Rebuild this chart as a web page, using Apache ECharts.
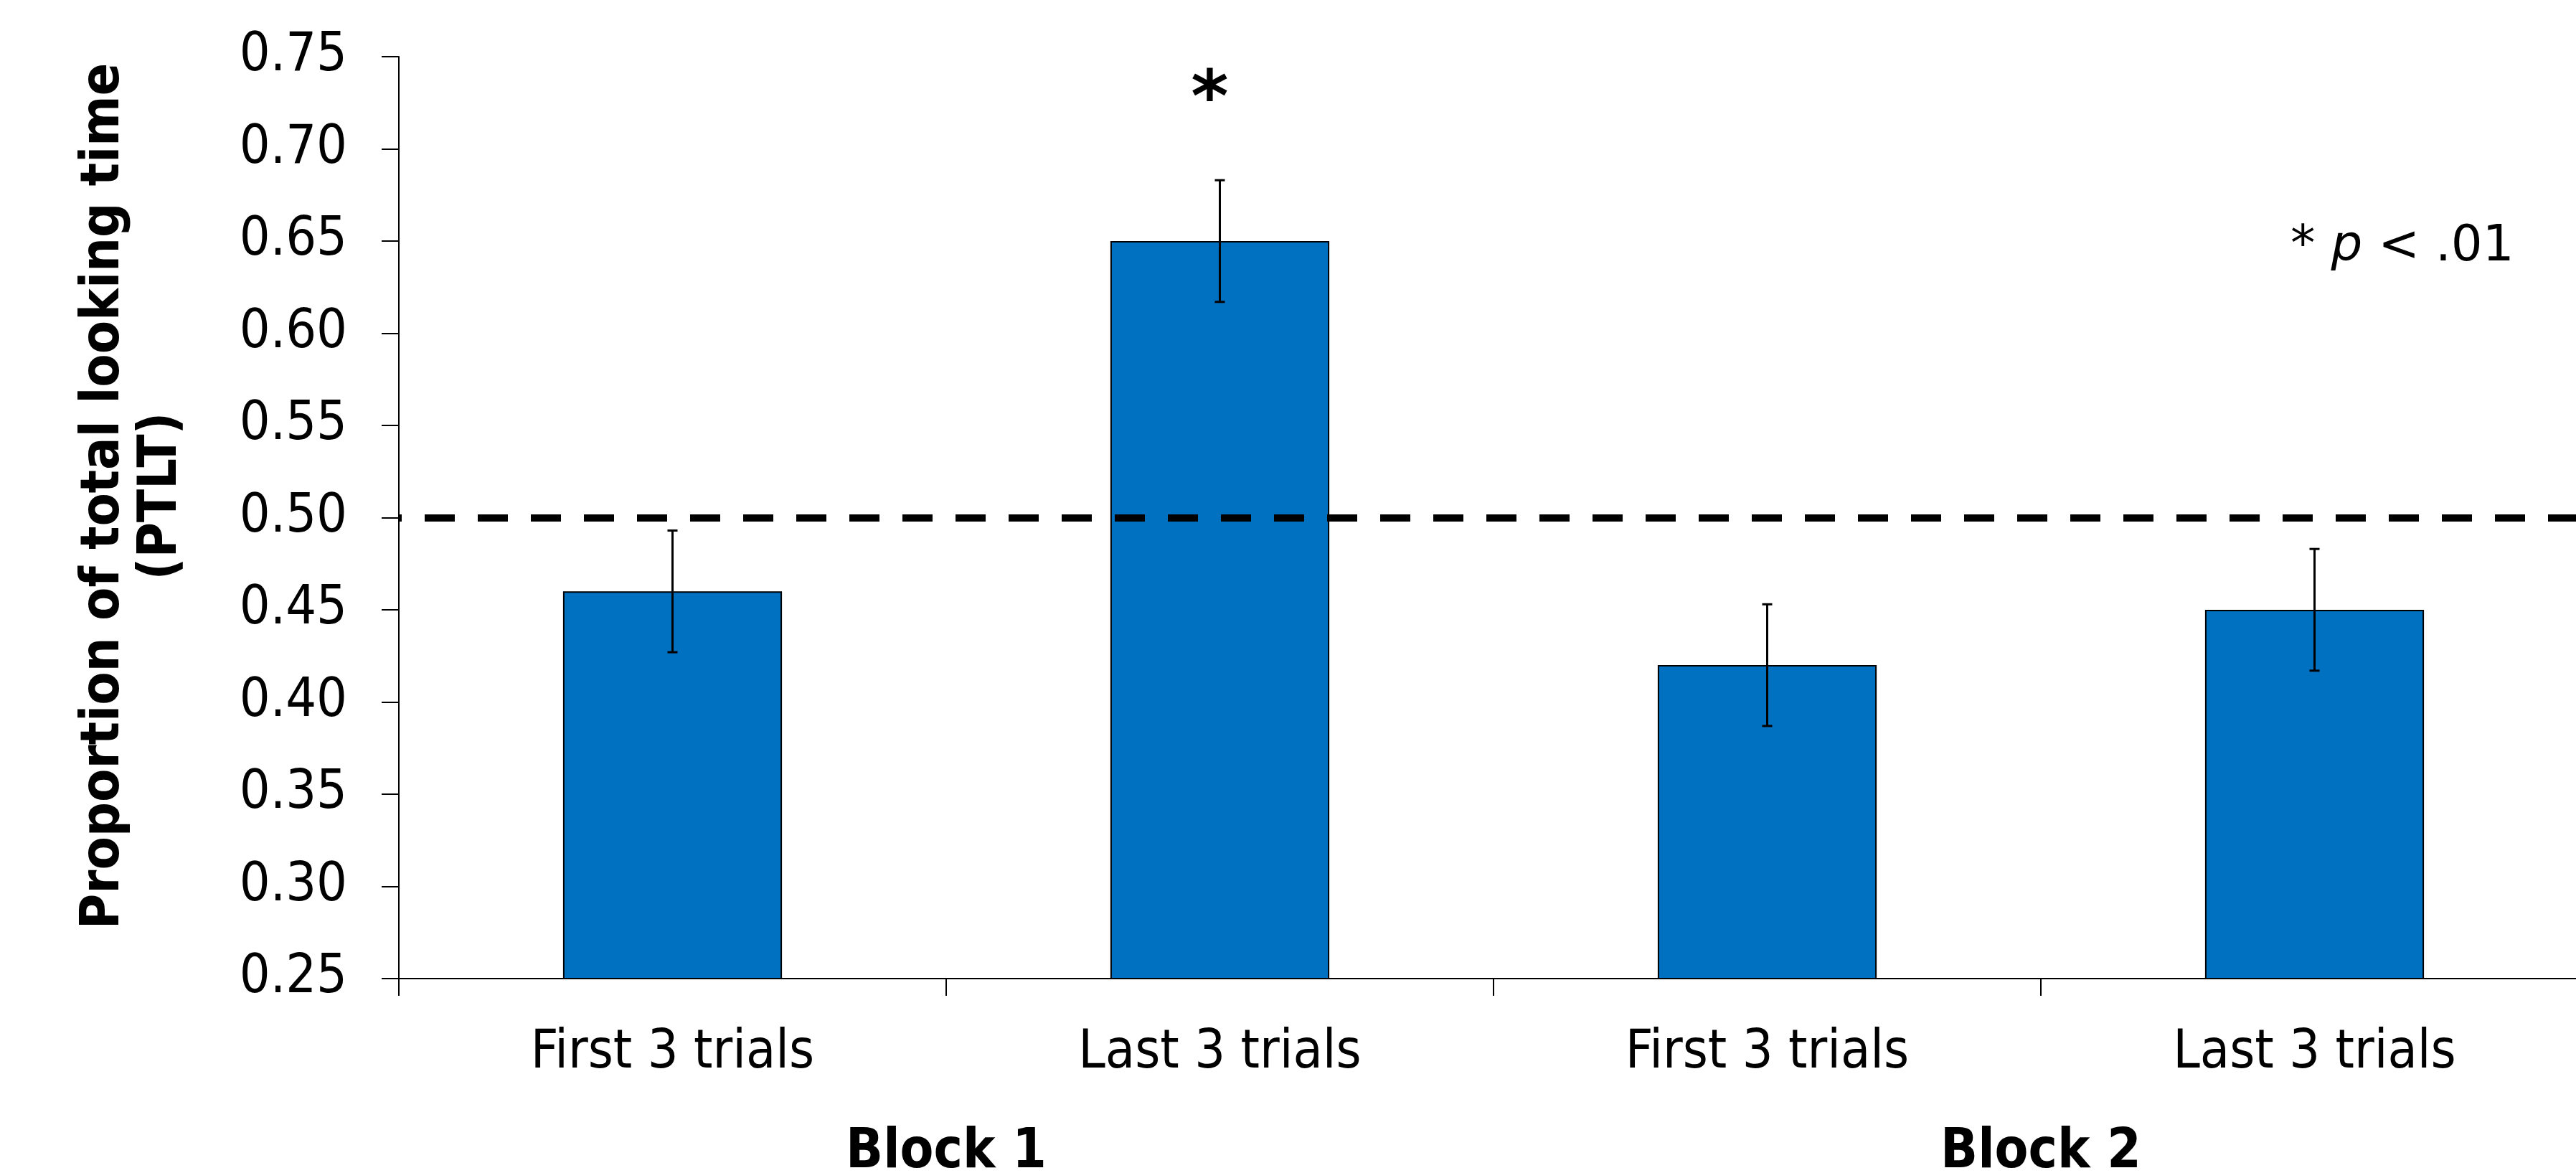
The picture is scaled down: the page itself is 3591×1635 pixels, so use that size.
<!DOCTYPE html>
<html>
<head>
<meta charset="utf-8">
<title>PTLT by block</title>
<script src="https://cdn.jsdelivr.net/npm/echarts@6/dist/echarts.min.js"></script>
<style>
  html, body { margin: 0; padding: 0; background: #fff; }
  #chart { width: 3591px; height: 1635px; }
</style>
</head>
<body>
<div id="chart"></div>
<script>
// data
const categories = ['First 3 trials', 'Last 3 trials', 'First 3 trials', 'Last 3 trials'];
const blocks = ['Block 1', 'Block 2'];
const means = [0.46, 0.65, 0.42, 0.45];
const errors = [0.033, 0.033, 0.033, 0.033];
const chanceLevel = 0.5;
const starIndex = 1;       // bar marked as significant
const starValue = 0.725;
const yMin = 0.25, yMax = 0.75, yStep = 0.05;

const condensed = '"DejaVu Sans Condensed", "Liberation Sans", sans-serif';

const errorData = means.map((m, i) => [i, m - errors[i], m + errors[i]]);

const myChart = echarts.init(document.getElementById('chart'));

const option = {
  animation: false,
  backgroundColor: '#fff',
  title: {
    text: '{a|* }{b|p}{a| < .01}',
    left: 3188,
    top: 300,
    textStyle: {
      fontWeight: 'normal',
      rich: {
        a: { fontFamily: 'DejaVu Sans', fontSize: 69, fontWeight: 'normal', color: '#000', lineHeight: 80 },
        b: { fontFamily: 'DejaVu Sans', fontSize: 69, fontWeight: 'normal', fontStyle: 'italic', color: '#000', lineHeight: 80 }
      }
    }
  },
  // the last category runs a little past the right edge, as in the original
  grid: {
    left: 556, width: 3052, top: 79, bottom: 271,
    containLabel: false,
    outerBoundsMode: 'none'
  },
  xAxis: [
    {
      type: 'category',
      data: categories,
      axisLine: { lineStyle: { color: '#000', width: 2 } },
      axisTick: { show: true, length: 24, lineStyle: { color: '#000', width: 2 } },
      axisLabel: { color: '#000', fontFamily: condensed, fontSize: 75, margin: 67, interval: 0 }
    },
    {
      // block names sit under each pair of bars
      type: 'category',
      data: blocks,
      position: 'bottom',
      axisLine: { show: false },
      axisTick: { show: false },
      axisLabel: { color: '#000', fontFamily: condensed, fontWeight: 'bold', fontSize: 76, margin: 205 }
    }
  ],
  yAxis: {
    type: 'value',
    min: yMin,
    max: yMax,
    interval: yStep,
    name: 'Proportion of total looking time\n(PTLT)',
    nameLocation: 'middle',
    nameRotate: 90,
    nameGap: 290,
    nameTextStyle: {
      color: '#000',
      fontFamily: condensed,
      fontWeight: 'bold',
      fontSize: 75,
      lineHeight: 80,
      padding: [0, 0, 0, 60]
    },
    splitLine: { show: false },
    axisLine: { show: true, lineStyle: { color: '#000', width: 2 } },
    axisTick: { show: true, length: 24, lineStyle: { color: '#000', width: 2 } },
    axisLabel: {
      color: '#000',
      fontFamily: condensed,
      fontSize: 75,
      margin: 72,
      formatter: v => v.toFixed(2)
    }
  },
  series: [
    {
      type: 'bar',
      data: means,
      barWidth: '40%',
      z: 2,
      itemStyle: { color: '#0070C0', borderColor: '#000', borderWidth: 2 },
      markLine: {
        silent: true,
        symbol: 'none',
        z: 6,
        label: { show: false },
        lineStyle: { color: '#000', width: 10, type: [42, 32], dashOffset: 38 },
        data: [{ yAxis: chanceLevel }]
      },
      markPoint: {
        silent: true,
        symbol: 'circle',
        symbolSize: 0,
        label: {
          show: true,
          position: 'inside',
          formatter: '*',
          color: '#000',
          fontFamily: 'DejaVu Sans',
          fontWeight: 'bold',
          fontSize: 100,
          offset: [-14, 0]
        },
        data: [{ coord: [starIndex, starValue] }]
      }
    },
    {
      // error bars
      type: 'custom',
      z: 3,
      data: errorData,
      encode: { x: 0, y: [1, 2] },
      renderItem: (params, api) => {
        const i = api.value(0);
        const lo = api.coord([i, api.value(1)]);
        const hi = api.coord([i, api.value(2)]);
        const cap = 7;
        const style = { stroke: '#000', lineWidth: 3 };
        return {
          type: 'group',
          children: [
            { type: 'line', shape: { x1: lo[0], y1: lo[1], x2: hi[0], y2: hi[1] }, style },
            { type: 'line', shape: { x1: hi[0] - cap, y1: hi[1], x2: hi[0] + cap, y2: hi[1] }, style },
            { type: 'line', shape: { x1: lo[0] - cap, y1: lo[1], x2: lo[0] + cap, y2: lo[1] }, style }
          ]
        };
      }
    }
  ]
};

myChart.setOption(option);
</script>
</body>
</html>
